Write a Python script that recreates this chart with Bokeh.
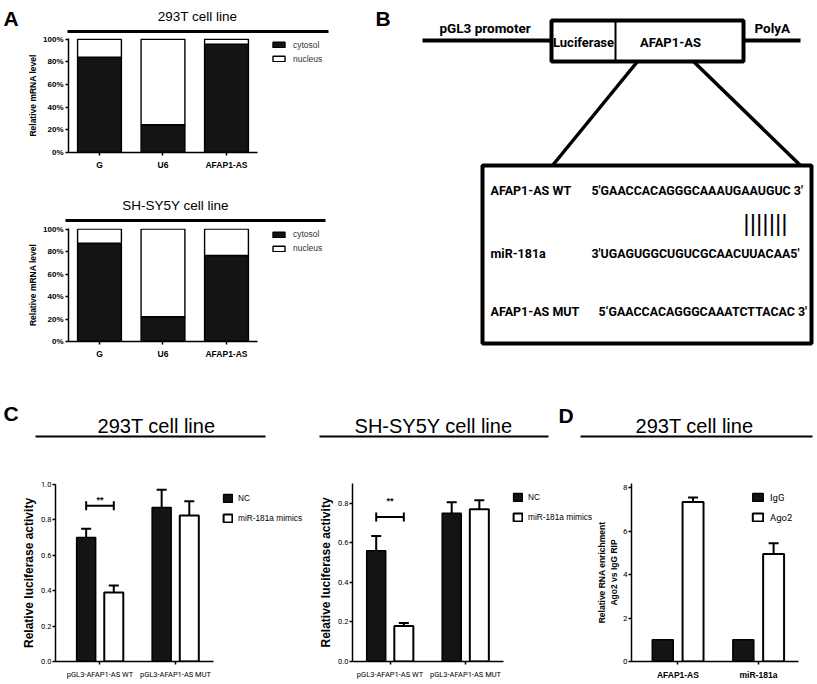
from bokeh.plotting import figure
from bokeh.models import (Range1d, FixedTicker, NumeralTickFormatter,
                          Legend, LegendItem, Whisker, TeeHead, ColumnDataSource)
from bokeh.layouts import column, row
from bokeh.embed import file_html
from bokeh.resources import INLINE
from bokeh.core.properties import value

# ---------------- data ----------------
A_CATEGORIES = ["G", "U6", "AFAP1-AS"]
A_SERIES = ["cytosol", "nucleus"]
A_YTICKS = [0, 0.2, 0.4, 0.6, 0.8, 1.0]
A_YLABEL = "Relative mRNA level"
A1_TITLE = "293T cell line"
A1_CYTOSOL = [0.84, 0.245, 0.955]
A1_NUCLEUS = [0.16, 0.755, 0.045]
A2_TITLE = "SH-SY5Y cell line"
A2_CYTOSOL = [0.875, 0.22, 0.765]
A2_NUCLEUS = [0.125, 0.78, 0.235]

B_LEFT_LABEL = "pGL3 promoter"
B_RIGHT_LABEL = "PolyA"
B_BOX_LABELS = ["Luciferase", "AFAP1-AS"]
B_ROW_NAMES = ["AFAP1-AS WT", "miR-181a", "AFAP1-AS MUT"]
B_SEQUENCES = ["5'GAACCACAGGGCAAAUGAAUGUC 3'",
               "3'UGAGUGGCUGUCGCAACUUACAA5'",
               "5\u2018GAACCACAGGGCAAATCTTACAC 3'"]
B_PAIRING = "|||||||"

C_GROUPS = ["pGL3-AFAP1-AS WT", "pGL3-AFAP1-AS MUT"]
C_SERIES = ["NC", "miR-181a mimics"]
C_SIGNIFICANCE = "**"
C_YLABEL = "Relative luciferase activity"
C1_TITLE = "293T cell line"
C1_NC = [0.70, 0.87]
C1_NC_ERR = [0.05, 0.10]
C1_MIMICS = [0.39, 0.825]
C1_MIMICS_ERR = [0.04, 0.08]
C1_YTICKS = [0.0, 0.2, 0.4, 0.6, 0.8, 1.0]
C2_TITLE = "SH-SY5Y cell line"
C2_NC = [0.56, 0.75]
C2_NC_ERR = [0.075, 0.055]
C2_MIMICS = [0.18, 0.77]
C2_MIMICS_ERR = [0.015, 0.045]
C2_YTICKS = [0.0, 0.2, 0.4, 0.6, 0.8]

D_TITLE = "293T cell line"
D_GROUPS = ["AFAP1-AS", "miR-181a"]
D_SERIES = ["IgG", "Ago2"]
D_IGG = [1.0, 1.0]
D_AGO2 = [7.35, 4.95]
D_AGO2_ERR = [0.2, 0.5]
D_YTICKS = [0, 2, 4, 6, 8]
D_YLABEL = "Relative RNA enrichment\nAgo2 vs IgG RIP"

PANEL_LETTERS = ["A", "B", "C", "D"]

# ---------------- styling ----------------
SANS = "Liberation Sans"
COND = "Roboto"
BLACK_FILL = "#141414"


def canvas(x0, x1, y0, y1):
    p = figure(width=x1 - x0, height=y1 - y0, x_range=Range1d(x0, x1), y_range=Range1d(y1, y0),
               x_axis_location=None, y_axis_location=None, toolbar_location=None,
               output_backend="svg", min_border=0, outline_line_color=None)
    p.grid.visible = False
    return p


def put_text(p, x, y, s, size, font=SANS, style="normal", align="left", color="black"):
    p.text(x=[x], y=[y], text=[s], text_font=value(font), text_font_size=size,
           text_font_style=style, text_align=align, text_baseline="middle", text_color=color)


def style_axes(p):
    p.grid.visible = False
    p.outline_line_color = None
    for ax in [p.xaxis[0], p.yaxis[0]]:
        ax.axis_line_color = "black"
        ax.axis_line_width = 1.5
        ax.major_tick_line_color = "black"
        ax.major_tick_line_width = 1.5
        ax.major_tick_in = 0
        ax.major_tick_out = 3
        ax.minor_tick_line_color = None
        ax.major_label_standoff = 1
        ax.axis_label_standoff = 2
        ax.major_label_text_color = "black"
        ax.axis_label_text_color = "black"


def add_legend(p, renderers, labels, x_off, top_off, frame_h, glyph_w, glyph_h, row_h,
               spacing, standoff, font_size, font, color="black"):
    leg_h = len(labels) * row_h + (len(labels) - 1) * spacing
    legend = Legend(items=[LegendItem(label=l, renderers=[r]) for l, r in zip(labels, renderers)],
                    location=(x_off, frame_h - top_off - leg_h),
                    glyph_width=glyph_w, glyph_height=glyph_h, label_height=row_h, label_width=10,
                    spacing=spacing, padding=0, margin=0, label_standoff=standoff,
                    border_line_color=None, background_fill_alpha=0,
                    label_text_font=font, label_text_font_size=font_size,
                    label_text_color=color)
    p.add_layout(legend)


def error_bars(p, xs, tops, errs, cap=10):
    src = ColumnDataSource(dict(x=xs, lo=tops, hi=[t + e for t, e in zip(tops, errs)]))
    w = Whisker(base="x", lower="lo", upper="hi", source=src, dimension="height",
                line_color="black", line_width=2, lower_head=None,
                upper_head=TeeHead(size=cap, line_color="black", line_width=2))
    p.add_layout(w)


# ---------------- panel A ----------------
def chart_a(cyt, nuc, height, b_top, b_bottom, leg_top):
    pos = [i + 1 for i in range(len(A_CATEGORIES))]
    src = ColumnDataSource(dict(x=pos, cytosol=cyt, nucleus=nuc))
    p = figure(width=373, height=height, x_range=Range1d(0.512, 4.874),
               y_range=Range1d(0, 1.006), toolbar_location=None, output_backend="svg",
               min_border_left=68, min_border_right=28, min_border_top=b_top,
               min_border_bottom=b_bottom)
    rs = p.vbar_stack(A_SERIES, x="x", width=0.69, source=src,
                      fill_color=[BLACK_FILL, "white"], line_color="black", line_width=1.4)
    style_axes(p)
    p.xaxis.bounds = (0.512, 3.488)
    p.xaxis.ticker = FixedTicker(ticks=pos)
    p.xaxis.major_label_overrides = {g: lab for g, lab in zip(pos, A_CATEGORIES)}
    p.yaxis.ticker = FixedTicker(ticks=A_YTICKS)
    p.yaxis.formatter = NumeralTickFormatter(format="0%")
    p.yaxis.axis_label = A_YLABEL
    p.yaxis.axis_label_text_font = SANS
    p.yaxis.axis_label_text_font_size = "8.5px"
    p.yaxis.axis_label_text_font_style = "bold"
    p.yaxis.major_label_text_font = SANS
    p.yaxis.major_label_text_font_size = "8px"
    p.yaxis.major_label_text_font_style = "bold"
    p.xaxis.major_label_text_font = SANS
    p.xaxis.major_label_text_font_size = "8.5px"
    p.xaxis.major_label_text_font_style = "bold"
    p.xaxis.major_label_standoff = 4
    p.yaxis.major_label_standoff = 2
    fh = height - b_top - b_bottom
    add_legend(p, rs, A_SERIES, 203, leg_top, fh, 15, 7, 10, 4, 7, "8.5px", SANS, "#333333")
    return p


hdr_a1 = canvas(0, 373, 0, 34)
put_text(hdr_a1, 3, 18, PANEL_LETTERS[0], "21px", style="bold")
put_text(hdr_a1, 197, 16, A1_TITLE, "13.5px", align="center")
hdr_a1.line([67, 328], [31, 31], line_width=3, line_color="black")

chart_a1 = chart_a(A1_CYTOSOL, A1_NUCLEUS, 146, 4, 28, 1.5)

hdr_a2 = canvas(0, 373, 180, 224)
put_text(hdr_a2, 175, 205, A2_TITLE, "13.5px", align="center")
hdr_a2.line([65, 325], [220, 220], line_width=3, line_color="black")

chart_a2 = chart_a(A2_CYTOSOL, A2_NUCLEUS, 141, 4, 24, 1.2)

# ---------------- panel B ----------------
pb = canvas(373, 817, 0, 365)
put_text(pb, 375, 18, PANEL_LETTERS[1], "21px", style="bold")
pb.line([422, 551], [40, 40], line_width=4, line_color="black")
pb.line([743, 800], [40, 40], line_width=4, line_color="black")
pb.line([637, 552], [61, 165], line_width=3.5, line_color="black")
pb.line([693, 800], [61, 165], line_width=3.5, line_color="black")
pb.quad(left=[551], right=[743], top=[20], bottom=[61], fill_color="white",
        line_color="black", line_width=4)
pb.line([615, 615], [20, 61], line_width=2, line_color="black")
pb.quad(left=[482], right=[811], top=[165], bottom=[343], fill_color="white",
        line_color="black", line_width=4)
put_text(pb, 439, 27, B_LEFT_LABEL, "13.5px", font=COND, style="bold")
put_text(pb, 754, 27, B_RIGHT_LABEL, "13.5px", font=COND, style="bold")
put_text(pb, 583, 42, B_BOX_LABELS[0], "13px", font=COND, style="bold", align="center")
put_text(pb, 670, 42, B_BOX_LABELS[1], "13px", font=COND, style="bold", align="center")
for name, seq, yy, sx in zip(B_ROW_NAMES, B_SEQUENCES, [190, 253, 311], [591, 591, 598]):
    put_text(pb, 490, yy, name, "12.5px", font=COND, style="bold")
    put_text(pb, sx, yy, seq, "12.4px", font=COND, style="bold")
put_text(pb, 765, 223, B_PAIRING, "26px", font=COND, align="center")

# ---------------- panels C / D ----------------
hdr_b = canvas(0, 817, 365, 440)
put_text(hdr_b, 3, 413, PANEL_LETTERS[2], "21px", style="bold")
put_text(hdr_b, 558, 415, PANEL_LETTERS[3], "21px", style="bold")
put_text(hdr_b, 156, 425, C1_TITLE, "20px", align="center")
put_text(hdr_b, 433, 425, C2_TITLE, "20px", align="center")
put_text(hdr_b, 694, 425, D_TITLE, "20px", align="center")
hdr_b.line([35, 265], [436, 436], line_width=2, line_color="black")
hdr_b.line([319, 548], [436, 436], line_width=2, line_color="black")
hdr_b.line([580, 812], [436, 436], line_width=2, line_color="black")

C_OFF = 0.183
C_W = 0.252
CH = 244  # chart height of bottom row
CB = 23   # bottom border of bottom row


def chart_c(width, b_left, b_right, b_top, x_rng, x_bounds, y_end, yticks, nc, nc_err, mim,
            mim_err, sig_y, star_y, leg_x, leg_top):
    pos = [i + 1 for i in range(len(C_GROUPS))]
    x_nc = [g - C_OFF for g in pos]
    x_mim = [g + C_OFF for g in pos]
    p = figure(width=width, height=CH, x_range=Range1d(*x_rng), y_range=Range1d(0, y_end),
               toolbar_location=None, output_backend="svg",
               min_border_left=b_left, min_border_right=b_right, min_border_top=b_top,
               min_border_bottom=CB)
    r_nc = p.vbar(x=x_nc, top=nc, width=C_W, fill_color=BLACK_FILL, line_color="black",
                  line_width=1.5)
    r_mim = p.vbar(x=x_mim, top=mim, width=C_W, fill_color="white", line_color="black",
                   line_width=2)
    error_bars(p, x_nc, nc, nc_err)
    error_bars(p, x_mim, mim, mim_err)
    bracket = Whisker(source=ColumnDataSource(dict(y=[sig_y], l=[x_nc[0]], u=[x_mim[0]])),
                      base="y", lower="l", upper="u", dimension="width",
                      line_color="black", line_width=2,
                      lower_head=TeeHead(size=9, line_color="black", line_width=2),
                      upper_head=TeeHead(size=9, line_color="black", line_width=2))
    p.add_layout(bracket)
    p.text(x=[pos[0]], y=[star_y], text=[C_SIGNIFICANCE], text_font=value(SANS),
           text_font_size="9px", text_font_style="bold", text_align="center",
           text_baseline="middle", text_color="black")
    style_axes(p)
    p.xaxis.bounds = x_bounds
    p.xaxis.ticker = FixedTicker(ticks=pos)
    p.xaxis.major_label_overrides = {g: lab for g, lab in zip(pos, C_GROUPS)}
    p.xaxis.major_label_text_font = COND
    p.xaxis.major_label_text_font_size = "7.5px"
    p.xaxis.major_label_standoff = 5
    p.yaxis.ticker = FixedTicker(ticks=yticks)
    p.yaxis.formatter = NumeralTickFormatter(format="0.0")
    p.yaxis.major_label_text_font = COND
    p.yaxis.major_label_text_font_size = "7.5px"
    p.yaxis.axis_label = C_YLABEL
    p.yaxis.axis_label_text_font = SANS
    p.yaxis.axis_label_text_font_size = "12px"
    p.yaxis.axis_label_text_font_style = "bold"
    fh = CH - b_top - CB
    add_legend(p, [r_nc, r_mim], C_SERIES, leg_x, leg_top, fh, 11, 10, 12, 8, 5, "8.3px", SANS)
    return p


chart_c1 = chart_c(310, 55, 2, 44, (0.411, 3.762), (0.411, 2.503), 1.0, C1_YTICKS,
                   C1_NC, C1_NC_ERR, C1_MIMICS, C1_MIMICS_ERR, 0.88, 0.915, 167, 7.7)
chart_c2 = chart_c(284, 42, 2, 43, (0.503, 3.682), (0.503, 2.503), 0.9, C2_YTICKS,
                   C2_NC, C2_NC_ERR, C2_MIMICS, C2_MIMICS_ERR, 0.73, 0.81, 160, 8.4)

D_OFF = 0.188
D_W = 0.26
d_pos = [i + 1 for i in range(len(D_GROUPS))]
d_x_igg = [g - D_OFF for g in d_pos]
d_x_ago = [g + D_OFF for g in d_pos]
chart_d = figure(width=223, height=CH, x_range=Range1d(0.424, 2.497), y_range=Range1d(0, 8.2),
                 toolbar_location=None, output_backend="svg",
                 min_border_left=33, min_border_right=19, min_border_top=43, min_border_bottom=CB)
r_igg = chart_d.vbar(x=d_x_igg, top=D_IGG, width=D_W, fill_color=BLACK_FILL, line_color="black",
                     line_width=1.5)
r_ago = chart_d.vbar(x=d_x_ago, top=D_AGO2, width=D_W, fill_color="white", line_color="black",
                     line_width=2)
error_bars(chart_d, d_x_ago, D_AGO2, D_AGO2_ERR)
style_axes(chart_d)
chart_d.xaxis.ticker = FixedTicker(ticks=d_pos)
chart_d.xaxis.major_label_overrides = {g: lab for g, lab in zip(d_pos, D_GROUPS)}
chart_d.xaxis.major_label_text_font = SANS
chart_d.xaxis.major_label_text_font_size = "8.5px"
chart_d.xaxis.major_label_text_font_style = "bold"
chart_d.xaxis.major_label_standoff = 5
chart_d.yaxis.ticker = FixedTicker(ticks=D_YTICKS)
chart_d.yaxis.major_label_text_font = COND
chart_d.yaxis.major_label_text_font_size = "8px"
chart_d.yaxis.axis_label = D_YLABEL
chart_d.yaxis.axis_label_text_font = SANS
chart_d.yaxis.axis_label_text_font_size = "8.5px"
chart_d.yaxis.axis_label_text_font_style = "bold"
chart_d.yaxis.axis_label_standoff = 1
add_legend(chart_d, [r_igg, r_ago], D_SERIES, 120, 8.4, CH - 43 - CB, 13, 10, 12, 8, 6, "9.5px",
           COND)

# ---------------- layout ----------------
left_col = column(row(hdr_a1), row(chart_a1), row(hdr_a2), row(chart_a2), spacing=0)
top_row = row(left_col, pb, spacing=0)
bottom = column(row(hdr_b), row(column(chart_c1), column(chart_c2), column(chart_d), spacing=0),
                spacing=0)
page = column(top_row, bottom, spacing=0)

open("out.html", "w").write(file_html(page, INLINE))
